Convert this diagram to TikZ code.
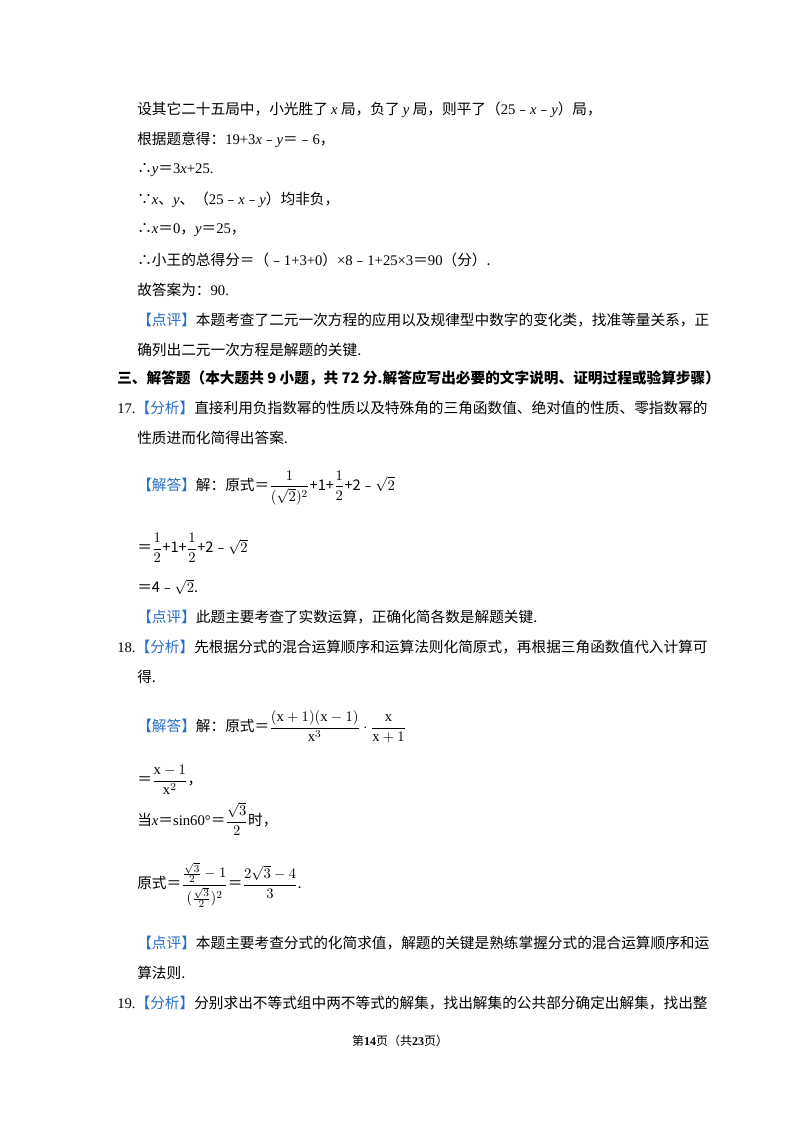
\documentclass[tikz,border=0pt]{standalone}
\usepackage{amsmath}
\usepackage{fontspec}
\setmainfont{Liberation Serif}
\newfontfamily\cjk{Noto Sans CJK SC}
\newfontfamily\lat{Liberation Serif}
\definecolor{tagblue}{RGB}{40,110,200}
\newcommand{\vv}[1]{{\lat\itshape #1}}
\newcommand{\mn}{{\cjk ﹣}}
\newcommand{\tg}[1]{{\color{tagblue}【#1】}}
\begin{document}
\begin{tikzpicture}[x=0.75pt,y=-0.75pt,
  every node/.style={anchor=west,inner sep=0pt,font=\cjk\fontsize{11}{13}\selectfont}]
\useasboundingbox[fill=white] (0,0) rectangle (800,1132);
\node (l1) at (137,110) {设其它二十五局中，小光胜了 \vv{x} 局，负了 \vv{y} 局，则平了（{\lat 25}\mn\vv{x}\mn\vv{y}）局，};
\node (l2) at (137,140) {根据题意得：{\lat 19+3}\vv{x}\mn\vv{y}＝\mn{\lat 6}，};
\node (l3) at (137,170) {∴\vv{y}＝{\lat 3}\vv{x}{\lat +25.}};
\node (l4) at (137,200) {∵\vv{x}、\vv{y}、（{\lat 25}\mn\vv{x}\mn\vv{y}）均非负，};
\node (l5) at (137,230) {∴\vv{x}＝{\lat 0}，\vv{y}＝{\lat 25}，};
\node (l6) at (137,260) {∴小王的总得分＝（\mn{\lat 1+3+0}）{\lat ×8}\mn{\lat 1+25×3}＝{\lat 90}（分）.};
\node (l7) at (137,290) {故答案为：{\lat 90.}};
\node (l8) at (137,320) {\tg{点评}本题考查了二元一次方程的应用以及规律型中数字的变化类，找准等量关系，正};
\node (l9) at (137,350) {确列出二元一次方程是解题的关键.};
\node (h) at (117,378) {\bfseries 三、解答题（本大题共 9 小题，共 72 分.解答应写出必要的文字说明、证明过程或验算步骤）};
\node (a1) at (117,408) {{\lat 17.}\tg{分析}直接利用负指数幂的性质以及特殊角的三角函数值、绝对值的性质、零指数幂的};
\node (a2) at (137,438) {性质进而化简得出答案.};
\node (a3) at (137,488) {\tg{解答}解：原式＝$\dfrac{1}{(\sqrt{2})^2}$+1+$\dfrac12$+2\mn$\sqrt2$};
\node (a4) at (137,548) {＝$\dfrac12$+1+$\dfrac12$+2\mn$\sqrt2$};
\node (a5) at (137,587) {＝4\mn$\sqrt2$.};
\node (a6) at (137,617) {\tg{点评}此题主要考查了实数运算，正确化简各数是解题关键.};
\node (b1) at (117,647) {{\lat 18.}\tg{分析}先根据分式的混合运算顺序和运算法则化简原式，再根据三角函数值代入计算可};
\node (b2) at (137,677) {得.};
\node (b3) at (137,727) {\tg{解答}解：原式＝$\dfrac{(\mathrm{x}+1)(\mathrm{x}-1)}{\mathrm{x}^3}\cdot\dfrac{\mathrm{x}}{\mathrm{x}+1}$};
\node (b4) at (137,780) {＝$\dfrac{\mathrm{x}-1}{\mathrm{x}^2}$，};
\node (b5) at (137,819) {当\vv{x}＝{\lat sin60°}＝$\dfrac{\sqrt3}{2}$时，};
\node (b6) at (137,885) {原式＝$\dfrac{\frac{\sqrt3}{2}-1}{(\frac{\sqrt3}{2})^2}$＝$\dfrac{2\sqrt3-4}{3}$.};
\node (b7) at (137,943) {\tg{点评}本题主要考查分式的化简求值，解题的关键是熟练掌握分式的混合运算顺序和运};
\node (b8) at (137,973) {算法则.};
\node (c1) at (117,1003) {{\lat 19.}\tg{分析}分别求出不等式组中两不等式的解集，找出解集的公共部分确定出解集，找出整};
\node[anchor=center,font=\cjk\fontsize{9}{11}\selectfont] (f) at (400,1041) {第{\bfseries\lat 14}页（共{\bfseries\lat 23}页）};
\end{tikzpicture}
\end{document}
